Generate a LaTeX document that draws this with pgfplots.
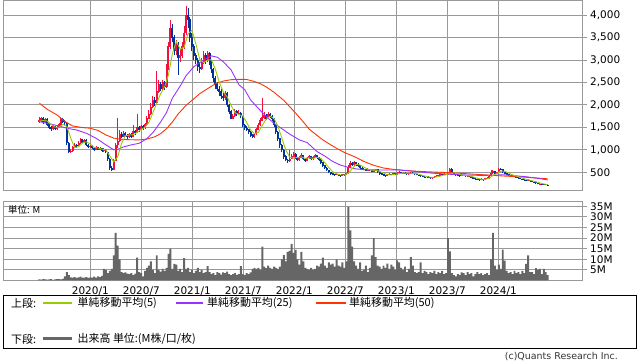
\documentclass[border=0pt]{standalone}
\usepackage{fontspec}
\setmainfont{DejaVu Sans}
\newfontfamily\jp{Noto Sans CJK JP}
\usepackage{pgfplots}
\usepackage{pgfplotstable}
\pgfplotsset{compat=1.18}
\definecolor{upred}{RGB}{245,15,60}
\definecolor{dnblue}{RGB}{0,50,160}
\definecolor{maA}{RGB}{153,204,0}
\definecolor{maB}{RGB}{153,51,255}
\definecolor{maC}{RGB}{255,51,0}
\definecolor{gridc}{RGB}{153,153,153}
\definecolor{volc}{RGB}{102,102,102}

\pgfplotstableread{
w o h l c
-26 1620 1720 1590 1650
-25 1650 1740 1620 1700
-24 1700 1720 1580 1620
-23 1620 1710 1600 1680
-22 1680 1700 1540 1560
-21 1560 1590 1460 1500
-20 1500 1530 1420 1460
-19 1460 1560 1440 1520
-18 1520 1540 1440 1470
-17 1470 1530 1450 1500
-16 1500 1600 1480 1560
-15 1560 1720 1540 1680
-14 1680 1700 1590 1620
-13 1620 1660 1560 1600
-12 1600 1610 1100 1150
-11 1150 1180 920 950
-10 950 1020 920 980
-9 980 1090 960 1050
-8 1050 1160 1030 1100
-7 1100 1130 1040 1080
-6 1080 1200 1060 1150
-5 1150 1260 1130 1240
-4 1240 1250 1150 1180
-3 1180 1250 1160 1220
-2 1220 1230 1080 1100
-1 1100 1120 1030 1060
0 1060 1110 1040 1080
1 1080 1100 1010 1040
2 1040 1060 970 1000
3 1000 1090 990 1060
4 1060 1070 990 1010
5 1010 1060 990 1030
6 1030 1050 960 980
7 980 1030 960 1000
8 1000 1010 920 950
9 950 960 760 800
10 800 820 560 600
11 600 640 520 560
12 560 800 540 750
13 750 1150 740 1100
14 1100 1700 1050 1200
15 1200 1450 1180 1350
16 1350 1400 1260 1300
17 1300 1420 1280 1380
18 1380 1400 1300 1330
19 1330 1360 1240 1280
20 1280 1380 1260 1350
21 1350 1370 1260 1300
22 1300 1550 1290 1420
23 1420 1450 1340 1380
24 1380 1800 1370 1500
25 1500 1540 1400 1450
26 1450 1560 1430 1520
27 1520 1560 1450 1480
28 1480 1600 1460 1560
29 1560 1750 1540 1700
30 1700 1880 1680 1800
31 1800 2050 1780 1950
32 1950 2200 1920 2100
33 2100 2180 1980 2050
34 2050 2750 2030 2300
35 2300 2550 2270 2450
36 2450 2500 2300 2350
37 2350 2560 2330 2500
38 2500 2540 2320 2400
39 2400 2900 2380 2800
40 2800 3400 2780 3300
41 3300 3880 3250 3700
42 3700 3800 3400 3500
43 3500 3550 3100 3200
44 3200 3450 3100 3350
45 3350 3400 2660 3050
46 3050 3250 2950 3100
47 3100 3400 3050 3300
48 3300 3750 3250 3600
49 3600 4200 3550 4000
50 4000 4150 3700 3900
51 3900 3950 3400 3500
52 3500 3600 3200 3300
53 3300 3350 3000 3100
54 3100 3150 2900 3000
55 3000 3050 2750 2850
56 2850 2950 2700 2800
57 2800 3050 2780 2950
58 2950 3200 2900 3100
59 3100 3150 2920 3000
60 3000 3200 2950 3150
61 3150 3180 2880 2950
62 2950 3000 2700 2800
63 2800 2820 2500 2600
64 2600 2650 2350 2450
65 2450 2500 2300 2350
66 2350 2420 2200 2300
67 2300 2350 2120 2200
68 2200 2280 2080 2150
69 2150 2300 2100 2250
70 2250 2280 1950 2000
71 2000 2020 1800 1850
72 1850 1880 1680 1700
73 1700 1800 1680 1750
74 1750 1900 1720 1850
75 1850 1880 1760 1800
76 1800 1880 1770 1820
77 1820 1840 1700 1750
78 1750 1760 1500 1550
79 1550 1580 1440 1480
80 1480 1520 1420 1450
81 1450 1470 1360 1400
82 1400 1420 1280 1320
83 1320 1350 1260 1280
84 1280 1380 1260 1350
85 1350 1490 1340 1450
86 1450 1600 1430 1550
87 1550 1700 1520 1650
88 1650 2150 1630 1720
89 1720 1840 1690 1780
90 1780 1800 1660 1700
91 1700 1840 1680 1800
92 1800 1820 1700 1750
93 1750 1770 1640 1680
94 1680 1700 1500 1550
95 1550 1570 1360 1400
96 1400 1420 1200 1250
97 1250 1270 1050 1100
98 1100 1120 950 1000
99 1000 1010 800 850
100 850 880 740 780
101 780 800 710 750
102 750 990 730 800
103 800 900 790 850
104 850 950 830 900
105 900 920 800 820
106 820 840 750 780
107 780 860 760 830
108 830 920 810 880
109 880 890 780 800
110 800 820 730 760
111 760 850 750 820
112 820 880 800 850
113 850 860 770 790
114 790 860 770 830
115 830 910 810 880
116 880 890 800 820
117 820 840 760 780
118 780 790 690 720
119 720 730 620 650
120 650 670 570 600
121 600 610 520 550
122 550 560 480 500
123 500 510 450 470
124 470 490 430 450
125 450 470 420 440
126 440 480 430 460
127 460 470 410 430
128 430 450 400 420
129 420 470 410 450
130 450 460 420 440
131 440 490 430 470
132 470 660 460 620
133 620 740 600 700
134 700 720 640 660
135 660 760 650 720
136 720 730 650 680
137 680 700 620 650
138 650 660 580 600
139 600 620 560 580
140 580 600 540 560
141 560 580 520 540
142 540 590 530 570
143 570 580 530 550
144 550 560 500 520
145 520 560 510 540
146 540 580 530 560
147 560 570 480 500
148 500 510 450 470
149 470 480 430 450
150 450 460 420 440
151 440 450 400 420
152 420 470 410 450
153 450 480 440 460
154 460 470 430 440
155 440 490 430 470
156 470 480 440 460
157 460 500 450 480
158 480 520 470 500
159 500 510 460 470
160 470 510 460 490
161 490 500 470 480
162 480 490 450 460
163 460 490 450 470
164 470 510 460 490
165 490 500 470 480
166 480 490 450 460
167 460 470 430 440
168 440 450 410 430
169 430 440 400 410
170 410 420 390 400
171 400 410 375 390
172 390 425 385 410
173 410 415 370 380
174 380 390 355 370
175 370 400 360 390
176 390 415 380 400
177 400 435 395 420
178 420 445 410 430
179 430 470 420 450
180 450 460 425 440
181 440 475 430 460
182 460 470 440 450
183 450 490 440 470
184 470 600 460 570
185 570 590 480 490
186 490 500 440 450
187 450 460 425 440
188 440 450 415 430
189 430 440 405 420
190 420 455 410 440
191 440 450 415 430
192 430 440 395 410
193 410 435 400 420
194 420 425 385 400
195 400 410 365 380
196 380 390 345 360
197 360 370 335 350
198 350 360 320 340
199 340 350 310 330
200 330 365 320 350
201 350 360 315 330
202 330 375 325 360
203 360 385 350 370
204 370 440 360 420
205 420 550 410 480
206 480 540 470 520
207 520 530 460 470
208 470 515 465 500
209 500 600 495 580
210 580 600 540 560
211 560 565 490 500
212 500 505 455 470
213 470 480 440 450
214 450 460 425 440
215 440 450 415 430
216 430 440 405 420
217 420 425 385 400
218 400 410 370 380
219 380 390 355 370
220 370 375 340 350
221 350 360 330 340
222 340 350 315 330
223 330 340 305 320
224 320 345 310 330
225 330 335 290 300
226 300 310 275 290
227 290 295 260 270
228 270 280 250 260
229 260 265 230 240
230 240 255 232 245
231 245 250 222 230
232 230 238 215 225
233 225 232 212 220
234 220 228 205 215
}\candles

\pgfplotstableread{
w v
-26 0.5
-25 0.4
-24 0.6
-23 0.5
-22 0.4
-21 0.5
-20 0.6
-19 0.3
-18 0.5
-17 0.7
-16 0.6
-15 0.5
-14 0.8
-13 2.0
-12 3.9
-11 2.5
-10 1.5
-9 1.4
-8 1.6
-7 1.2
-6 1.5
-5 1.8
-4 1.3
-3 1.4
-2 1.6
-1 1.2
0 1.5
1 1.3
2 1.8
3 1.4
4 2.0
5 1.6
6 2.2
7 5.5
8 5.0
9 3.5
10 4.5
11 5.5
12 11.8
13 22.5
14 16.5
15 10.0
16 4.0
17 3.5
18 3.8
19 3.3
20 3.0
21 3.5
22 2.5
23 3.2
24 10.8
25 4.0
26 3.5
27 2.0
28 4.5
29 6.0
30 7.0
31 9.0
32 5.0
33 3.5
34 11.8
35 5.0
36 4.2
37 5.5
38 4.5
39 6.0
40 12.5
41 15.0
42 5.5
43 7.9
44 7.5
45 4.5
46 5.5
47 4.0
48 10.5
49 5.5
50 6.0
51 4.0
52 5.0
53 3.5
54 4.5
55 6.0
56 4.0
57 5.0
58 3.5
59 4.0
60 6.8
61 4.0
62 3.0
63 3.5
64 2.5
65 4.0
66 3.5
67 2.8
68 3.8
69 3.5
70 4.2
71 3.0
72 2.5
73 3.0
74 3.5
75 2.7
76 3.0
77 6.8
78 3.0
79 2.5
80 3.5
81 3.0
82 3.8
83 5.5
84 6.0
85 5.5
86 6.0
87 5.0
88 16.0
89 6.5
90 5.8
91 7.0
92 6.0
93 5.5
94 6.5
95 6.0
96 5.5
97 6.5
98 10.0
99 12.0
100 9.0
101 13.5
102 14.0
103 17.3
104 13.0
105 14.5
106 10.0
107 7.5
108 13.5
109 9.0
110 6.0
111 5.5
112 5.0
113 6.0
114 5.0
115 5.5
116 7.0
117 6.5
118 8.0
119 10.8
120 7.0
121 6.0
122 8.5
123 7.5
124 8.0
125 6.5
126 10.0
127 7.0
128 6.5
129 8.6
130 6.0
131 9.0
132 34.6
133 23.6
134 16.0
135 9.0
136 7.0
137 5.5
138 8.6
139 4.5
140 5.0
141 7.0
142 4.0
143 6.0
144 11.8
145 20.0
146 11.0
147 7.0
148 6.5
149 5.5
150 7.0
151 6.0
152 8.0
153 5.5
154 7.5
155 6.5
156 5.0
157 9.5
158 8.5
159 6.0
160 5.0
161 6.5
162 4.0
163 5.5
164 11.0
165 7.0
166 4.0
167 3.5
168 4.0
169 8.6
170 3.5
171 4.5
172 4.0
173 3.0
174 4.0
175 3.5
176 4.5
177 3.0
178 4.0
179 3.5
180 4.5
181 3.0
182 3.5
183 20.0
184 13.7
185 3.5
186 2.5
187 2.0
188 3.0
189 2.5
190 3.8
191 3.5
192 2.5
193 4.0
194 3.0
195 3.5
196 2.0
197 3.0
198 4.0
199 3.0
200 3.5
201 2.5
202 3.0
203 3.5
204 2.5
205 10.0
206 22.5
207 7.0
208 5.0
209 7.5
210 5.5
211 14.6
212 9.4
213 4.5
214 3.5
215 4.0
216 3.0
217 4.5
218 3.5
219 4.0
220 3.0
221 4.5
222 3.5
223 7.9
224 11.8
225 4.0
226 3.9
227 3.0
228 5.8
229 5.0
230 5.5
231 3.0
232 5.5
233 4.0
234 2.5
}\volume

\pgfplotsset{
  panel/.style={
    scale only axis, width=579.4bp,
    xmin=-44.5, xmax=251.9,
    xtick={0,26.09,52.18,78.27,104.36,130.45,156.54,182.63,208.72},
    xmajorgrids, ymajorgrids,
    grid style={gridc, line width=0.8bp},
    axis line style={gridc, line width=0.8bp},
    ytick style={gridc, line width=0.8bp},
    xtick style={draw=none},
    ytick pos=right, tick align=outside, major tick length=4bp,
    ticklabel style={font=\fontsize{10.5}{12}\selectfont, text=black},
  },
}

\begin{document}
\begin{tikzpicture}

% ---------- price panel ----------
\begin{axis}[panel, at={(3.3bp,171.3bp)}, anchor=south west, height=190.2bp,
  ymin=90, ymax=4323,
  ytick={500,1000,1500,2000,2500,3000,3500,4000},
  yticklabels={500,{1,000},{1,500},{2,000},{2,500},{3,000},{3,500},{4,000}},
  xticklabels={}]
% up candles (red): wick then body
\addplot[forget plot, mark=none, draw=upred, line width=1bp, -,
  restrict expr to domain={\thisrow{c}-\thisrow{o}}{0:100000},
  quiver={u=0, v=\thisrow{h}-\thisrow{l}}]
  table[x=w, y=l] {\candles};
\addplot[forget plot, mark=none, draw=upred, line width=2bp, -,
  restrict expr to domain={\thisrow{c}-\thisrow{o}}{0:100000},
  quiver={u=0, v=\thisrow{c}-\thisrow{o}+8}]
  table[x=w, y expr={\thisrow{o}-4}] {\candles};
% down candles (blue)
\addplot[forget plot, mark=none, draw=dnblue, line width=1bp, -,
  restrict expr to domain={\thisrow{c}-\thisrow{o}}{-100000:-0.5},
  quiver={u=0, v=\thisrow{h}-\thisrow{l}}]
  table[x=w, y=l] {\candles};
\addplot[forget plot, mark=none, draw=dnblue, line width=2bp, -,
  restrict expr to domain={\thisrow{c}-\thisrow{o}}{-100000:-0.5},
  quiver={u=0, v=\thisrow{o}-\thisrow{c}+8}]
  table[x=w, y expr={\thisrow{c}-4}] {\candles};
% MA50
\addplot[maC, line width=0.9bp, mark=none] coordinates {
(-26,2035) (-22,1900) (-17,1775) (-13,1630) (-9,1530) (-4,1495) (0,1480) (4,1430)
(8,1330) (12,1260) (16,1232) (20,1225) (25,1220) (29,1240) (33,1290) (36,1360)
(39,1470) (42,1620) (45,1800) (49,1990) (52,2100) (56,2250) (60,2360) (64,2470)
(68,2530) (72,2560) (76,2569) (80,2565) (84,2520) (87,2470) (90,2400) (94,2280)
(99,2100) (102,1960) (106,1770) (109,1620) (112,1460) (116,1320) (119,1220) (123,1110)
(126,1034) (130,940) (135,850) (140,740) (145,655) (150,595) (155,565) (160,545)
(166,525) (173,510) (180,498) (186,485) (192,470) (198,452) (204,438) (210,420)
(216,407) (222,392) (228,374) (234,355)};
% MA25
\addplot[maB, line width=0.9bp, mark=none] coordinates {
(-26,1626) (-21,1580) (-16,1530) (-12,1480) (-7,1441) (-2,1368) (3,1257) (8,1110)
(12,1000) (14,1010) (17,1065) (21,1110) (25,1145) (29,1250) (32,1380) (36,1620)
(39,1830) (42,2150) (46,2420) (49,2650) (53,2850) (58,3000) (62,3090) (65,3060)
(68,2960) (72,2780) (76,2450) (79,2340) (82,2110) (86,1920) (90,1740) (94,1590)
(98,1470) (102,1350) (107,1220) (111,1160) (116,960) (120,860) (124,740) (128,660)
(132,610) (136,575) (141,555) (150,550) (158,550) (166,520) (175,480) (184,455)
(192,440) (200,430) (206,435) (211,445) (217,425) (223,400) (228,370) (234,330)};
% MA5
\addplot[maA, line width=0.9bp, mark=none] coordinates {
(-26,1640) (-24,1650) (-22,1642) (-20,1564) (-18,1502) (-16,1502) (-14,1566) (-12,1522)
(-10,1260) (-8,1046) (-6,1072) (-4,1150) (-2,1178) (0,1128) (2,1056) (4,1038)
(6,1016) (8,994) (10,866) (12,732) (14,842) (16,1140) (18,1312) (20,1328)
(22,1336) (24,1390) (26,1454) (28,1502) (30,1612) (32,1822) (34,2040) (36,2250)
(38,2400) (40,2670) (42,3140) (44,3410) (46,3240) (48,3280) (50,3580) (52,3660)
(54,3360) (56,3010) (58,2940) (60,3000) (62,3000) (64,2790) (66,2500) (68,2290)
(70,2180) (72,1990) (74,1830) (76,1784) (78,1754) (80,1610) (82,1440) (84,1360)
(86,1390) (88,1544) (90,1680) (92,1750) (94,1696) (96,1526) (98,1260) (100,996)
(102,836) (104,816) (106,830) (108,842) (110,810) (112,822) (114,810) (116,834)
(118,806) (120,714) (122,604) (124,514) (126,464) (128,440) (130,440) (132,480)
(134,578) (136,676) (138,662) (140,614) (142,570) (144,548) (146,548) (148,518)
(150,484) (152,446) (154,442) (156,456) (158,470) (160,480) (162,480) (164,478)
(166,472) (168,460) (170,428) (172,408) (174,390) (176,390) (178,402) (180,428)
(182,446) (184,478) (186,486) (188,476) (190,436) (192,426) (194,420) (196,394)
(198,366) (200,346) (202,342) (204,366) (206,430) (208,478) (210,526) (212,522)
(214,484) (216,442) (218,414) (220,384) (222,354) (224,334) (226,314) (228,290)
(230,261) (232,240) (234,227)};
\end{axis}

% ---------- volume panel ----------
\begin{axis}[panel, at={(3.3bp,81.5bp)}, anchor=south west, height=79.5bp,
  ymin=0, ymax=37.5,
  ytick={5,10,15,20,25,30,35},
  yticklabels={5M,10M,15M,20M,25M,30M,35M},
  xticklabels={2020/1,2020/7,2021/1,2021/7,2022/1,2022/7,2023/1,2023/7,2024/1},
  xticklabel style={yshift=1bp}]
\addplot[ybar, bar width=1, fill=volc, draw=none] table[x=w, y=v] {\volume};
\end{axis}

\node[anchor=west, inner sep=0pt, font=\jp\fontsize{9.5}{11}\selectfont] at (8bp,152bp) {単位: M};

% ---------- legend box ----------
\draw[black, line width=0.8bp] (3.5bp,14bp) rectangle (636.5bp,67bp);
\begin{scope}[every node/.style={anchor=west, inner sep=0pt, font=\jp\fontsize{11}{13}\selectfont}]
\node at (11bp,59bp) {上段:};
\draw[maA, line width=1.1bp] (43bp,59bp) -- (71.5bp,59bp);
\node at (77.5bp,59bp) {単純移動平均(5)};
\draw[maB, line width=1.1bp] (176bp,59bp) -- (203bp,59bp);
\node at (207bp,59bp) {単純移動平均(25)};
\draw[maC, line width=1.1bp] (315.5bp,59bp) -- (346bp,59bp);
\node at (349bp,59bp) {単純移動平均(50)};
\node at (11bp,23bp) {下段:};
\draw[volc, line width=3bp] (43bp,23bp) -- (71.5bp,23bp);
\node at (77.5bp,23bp) {出来高 単位:(M株/口/枚)};
\end{scope}
\node[anchor=east, inner sep=0pt, font=\fontsize{9.5}{11}\selectfont, text=black!80] at (618bp,5bp) {(c)Quants Research Inc.};

\pgfresetboundingbox
\useasboundingbox (0,0) rectangle (638bp,362bp);
\end{tikzpicture}
\end{document}
